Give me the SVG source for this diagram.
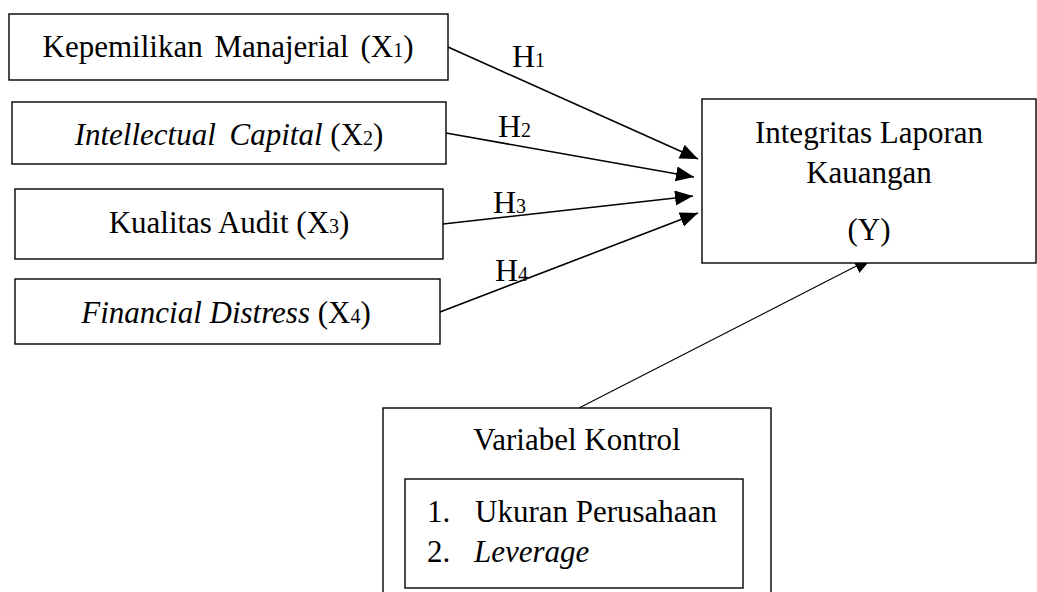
<svg xmlns="http://www.w3.org/2000/svg" width="1037" height="592" viewBox="0 0 1037 592">
<style>
.box{fill:#fff;stroke:#000;stroke-width:1.4}
.t{font-family:"Liberation Serif","Times New Roman",serif;font-size:31px;fill:#000}
.c{text-anchor:middle}
.i{font-style:italic}
.h{font-family:"Liberation Serif","Times New Roman",serif;font-size:32px;fill:#000}
.sub{font-size:20px}
.ln{stroke:#000;stroke-width:1.6;fill:none}
</style>
<defs>
<marker id="arr" markerUnits="userSpaceOnUse" markerWidth="20" markerHeight="16" refX="18" refY="7.5" orient="auto">
<path d="M0,0 L18,7.5 L0,15 Z" fill="#000"/>
</marker>
</defs>
<g id="connectors">
<line class="ln" x1="448" y1="47" x2="698" y2="159" marker-end="url(#arr)"/>
<line class="ln" x1="446" y1="133" x2="694" y2="177" marker-end="url(#arr)"/>
<line class="ln" x1="443" y1="224" x2="693" y2="196" marker-end="url(#arr)"/>
<line class="ln" x1="440" y1="312" x2="698" y2="213" marker-end="url(#arr)"/>
<line class="ln" style="stroke-width:1.1" x1="579" y1="408" x2="872" y2="258" marker-end="url(#arr)"/>
<text class="h" x="512" y="67">H<tspan class="sub">1</tspan></text>
<text class="h" x="498" y="137">H<tspan class="sub">2</tspan></text>
<text class="h" x="493" y="213">H<tspan class="sub">3</tspan></text>
<text class="h" x="495" y="281">H<tspan class="sub">4</tspan></text>
</g>
<g id="x1">
<rect class="box" x="9" y="14" width="439" height="66"/>
<text class="t c" x="228" y="57" word-spacing="4">Kepemilikan Manajerial (X<tspan class="sub">1</tspan>)</text>
</g>
<g id="x2">
<rect class="box" x="12" y="102" width="434" height="62"/>
<text class="t c" x="229" y="145"><tspan class="i" word-spacing="6">Intellectual Capital</tspan> (X<tspan class="sub">2</tspan>)</text>
</g>
<g id="x3">
<rect class="box" x="15" y="189" width="428" height="70"/>
<text class="t c" x="229" y="233">Kualitas Audit (X<tspan class="sub">3</tspan>)</text>
</g>
<g id="x4">
<rect class="box" x="15" y="279" width="425" height="65"/>
<text class="t c" x="226" y="323"><tspan class="i">Financial Distress</tspan>  (X<tspan class="sub">4</tspan>)</text>
</g>
<g id="y">
<rect class="box" x="702" y="99" width="334" height="164"/>
<text class="t c" x="869" y="143">Integritas Laporan</text>
<text class="t c" x="869" y="183">Kauangan</text>
<text class="t c" x="869" y="240">(Y)</text>
</g>
<g id="kontrol">
<rect class="box" x="383" y="408" width="388" height="200"/>
<text class="t c" x="577" y="450">Variabel Kontrol</text>
<rect class="box" x="405" y="479" width="338" height="109"/>
<text class="t" x="427" y="522">1.</text>
<text class="t" x="475" y="522">Ukuran Perusahaan</text>
<text class="t" x="427" y="562">2.</text>
<text class="t i" x="474" y="562">Leverage</text>
</g>
</svg>
